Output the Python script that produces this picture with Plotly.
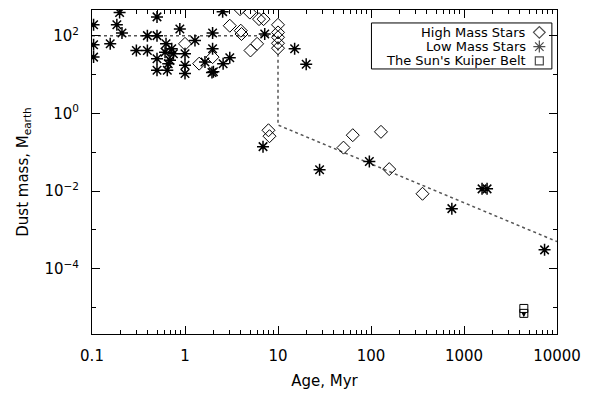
import plotly.graph_objects as go

# ---------------- data ----------------
# Low mass stars (asterisks): age [Myr], dust mass [M_earth]
low_age = [0.198, 0.50, 0.185, 0.21, 0.104, 0.104, 0.104, 0.157, 0.30, 0.394,
           0.394, 0.50, 0.50, 0.50, 0.625, 0.645, 0.61, 0.72, 0.75, 0.69,
           0.66, 0.88, 1.0, 1.0, 1.0, 1.28, 1.64, 1.98, 1.98, 1.95,
           2.02, 2.57, 3.03, 2.54, 7.2, 15.1, 20.1,
           6.9, 28, 96, 740, 1563, 1770, 7350]
low_mass = [392, 304, 191, 117, 190, 58, 28, 61.5, 41.5, 41.5,
            100, 100, 25.5, 12.9, 61.5, 12.9, 37.6, 45.9, 34.2, 23.1,
            19.0, 148, 34.2, 17.3, 10.6, 74.6, 20.9, 117, 45.9, 11.2,
            11.8, 19.0, 27.1, 415, 110, 45.9, 18.3,
            0.139, 0.0352, 0.0577, 0.00352, 0.01138, 0.01138, 3.06e-4]

# High mass stars (diamonds)
high_age = [1.0, 1.42, 1.98, 3.9, 4.98, 6.25, 7.0, 3.03, 3.98, 4.05,
            5.06, 5.96, 10, 10, 10, 10, 10,
            7.9, 8.1, 63.7, 50.6, 128, 157, 358]
high_mass = [61.5, 19.0, 28.0, 480, 392, 266, 266, 180, 134, 110,
             41.5, 61.5, 190, 121, 90.6, 63.7, 47.5,
             0.367, 0.258, 0.274, 0.131, 0.334, 0.0367, 0.0085]

# The Sun's Kuiper belt (upper limit)
kb_age = [4400, 4400]
kb_mass = [9.5e-6, 7.1e-6]

# Model curve (dotted)
model_age = [0.1, 10, 10, 10000]
model_mass = [100, 100, 0.5, 5e-4]

x_tickvals = [0.1, 1, 10, 100, 1000, 10000]
x_ticktext = ["0.1", "1", "10", "100", "1000", "10000"]
y_tickvals = [1e2, 1e0, 1e-2, 1e-4]
y_ticktext = ["10<sup>2</sup>", "10<sup>0</sup>", "10<sup>−2</sup>", "10<sup>−4</sup>"]

legend_labels = ["High Mass Stars", "Low Mass Stars", "The Sun's Kuiper Belt"]

FONT = "DejaVu Sans"

fig = go.Figure()

fig.add_trace(go.Scatter(x=model_age, y=model_mass, mode="lines",
                         line=dict(color="#555555", width=1.5, dash="dot"),
                         showlegend=False, hoverinfo="skip"))
fig.add_trace(go.Scatter(x=low_age, y=low_mass, mode="markers",
                         marker=dict(symbol="asterisk-open", size=10, color="black",
                                     line=dict(color="black", width=1.5)),
                         showlegend=False))
fig.add_trace(go.Scatter(x=high_age, y=high_mass, mode="markers",
                         marker=dict(symbol="diamond-open", size=10, color="black",
                                     line=dict(color="black", width=1)),
                         showlegend=False))
fig.add_trace(go.Scatter(x=kb_age, y=kb_mass, mode="markers",
                         marker=dict(symbol="square-open", size=8, color="black",
                                     line=dict(color="black", width=1)),
                         showlegend=False))
# upper-limit arrow
fig.add_annotation(x=3.643, y=-5.25, ax=3.643, ay=-5.12, xref="x", yref="y",
                   axref="x", ayref="y", text="", showarrow=True,
                   arrowhead=2, arrowsize=1, arrowwidth=1, arrowcolor="black")

# ---- custom legend (text then symbol, IDL style) ----
leg_y = [0.931, 0.887, 0.843]
leg_sym = ["diamond-open", "asterisk-open", "square-open"]
leg_size = [9, 10, 8]
for lab, yy in zip(legend_labels, leg_y):
    fig.add_annotation(x=0.938, y=yy, xref="paper", yref="paper", text=lab,
                       showarrow=False, xanchor="right", yanchor="middle",
                       font=dict(family=FONT, size=13, color="black"))
fig.add_trace(go.Scatter(x=[0.962] * 3, y=leg_y, mode="markers",
                         xaxis="x2", yaxis="y2",
                         marker=dict(symbol=leg_sym, size=leg_size, color="black",
                                     line=dict(color="black", width=1.2)),
                         showlegend=False, hoverinfo="skip"))
fig.add_shape(type="rect", xref="paper", yref="paper",
              x0=0.601, x1=0.989, y0=0.818, y1=0.960,
              line=dict(color="black", width=1), fillcolor="rgba(0,0,0,0)")

axis_common = dict(showline=True, linecolor="black", linewidth=1, mirror="ticks",
                   ticks="inside", ticklen=8, tickcolor="black", tickwidth=1,
                   showgrid=False, zeroline=False,
                   tickfont=dict(family=FONT, size=15, color="black"))

minor_x = [m * 10 ** d for d in range(-1, 4) for m in range(2, 10)]
fig.update_xaxes(type="log", range=[-1, 4], tickmode="array",
                 tickvals=x_tickvals, ticktext=x_ticktext,
                 minor=dict(tickmode="array", tickvals=minor_x, ticks="inside",
                            ticklen=4, tickcolor="black", tickwidth=1),
                 title=dict(text="Age, Myr", font=dict(family=FONT, size=15, color="black"),
                            standoff=11),
                 ticklabelstandoff=8, **axis_common)
fig.update_yaxes(type="log", range=[-5.68, 2.66], tickmode="array",
                 tickvals=y_tickvals, ticktext=y_ticktext,
                 minor=dict(tickmode="array", tickvals=[1e1, 1e-1, 1e-3, 1e-5],
                            ticks="inside", ticklen=4, tickcolor="black", tickwidth=1),
                 title=dict(text="Dust mass, M<sub>earth</sub>",
                            font=dict(family=FONT, size=15, color="black"), standoff=12),
                 ticklabelstandoff=9, **axis_common)

fig.update_layout(
    width=590, height=396,
    margin=dict(l=92, r=32, t=9, b=59, pad=0),
    paper_bgcolor="white", plot_bgcolor="white",
    xaxis2=dict(overlaying="x", range=[0, 1], visible=False, fixedrange=True),
    yaxis2=dict(overlaying="y", range=[0, 1], visible=False, fixedrange=True),
    showlegend=False,
)

fig.write_html("out.html", config={"displayModeBar": False},
               post_script="document.body.style.margin='0';document.body.style.overflow='hidden';")
